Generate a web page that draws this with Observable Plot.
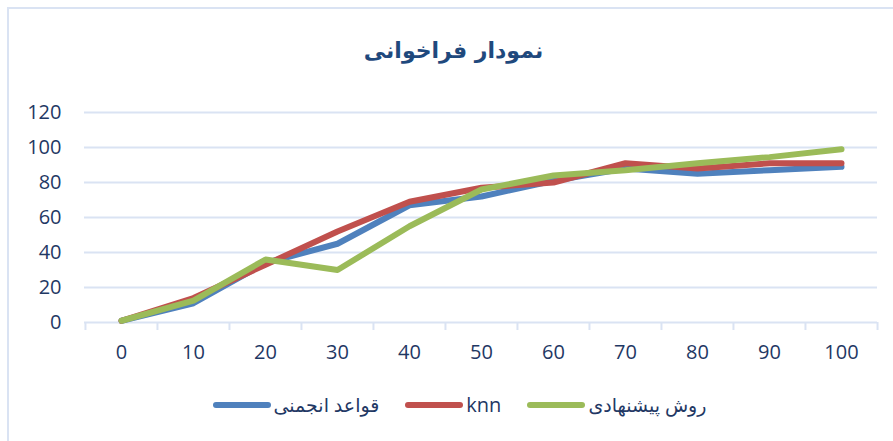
<!DOCTYPE html>
<html><head><meta charset="utf-8">
<script src="https://cdn.jsdelivr.net/npm/d3@7"></script>
<script src="https://cdn.jsdelivr.net/npm/@observablehq/plot@0.6"></script>
<style>
body{margin:0;background:#fff;}
#chart{position:relative;width:893px;height:441px;overflow:hidden;font-family:"Open Sans","DejaVu Sans",sans-serif;background:#fff;}
#frame{position:absolute;left:7px;top:7px;width:900px;height:450px;border-left:2px solid #DAE3F3;border-top:2px solid #DAE3F3;}
#title{position:absolute;top:38px;left:14px;right:0;text-align:center;font-weight:bold;font-size:22px;font-family:"DejaVu Sans",sans-serif;color:#1F497D;direction:rtl;}
#plot{position:absolute;left:0;top:90px;}
#legend{position:absolute;top:391px;left:26px;right:0;display:flex;justify-content:center;gap:26px;}
.item{display:flex;align-items:center;gap:3px;font-size:20px;color:#1F3864;line-height:28px;}
.item span.ar{font-size:19px;}
.item svg{display:block;}
</style></head>
<body>
<div id="chart">
  <div id="frame"></div>
  <div id="title">نمودار فراخوانی</div>
  <div id="plot"></div>
  <div id="legend"></div>
</div>
<script>
const categories = ["0","10","20","30","40","50","60","70","80","90","100"];
const yTicks = [0,20,40,60,80,100,120];
const seriesNames = ["قواعد انجمنی","knn","روش پیشنهادی"];
const seriesColors = ["#4F81BD","#C0504D","#9BBB59"];
const rulesValues = [1,11,34,45,67,72,81,88,85,87,89];
const knnValues = [1,14,33,52,69,77,80,91,88,91,91];
const proposedValues = [1,12.5,36,30,55,76,84,87,91,94.5,99];

const allValues = [rulesValues, knnValues, proposedValues];
const data = [];
seriesNames.forEach((name, s) => categories.forEach((c, i) => data.push({cat: c, value: allValues[s][i], series: name})));

const W = 893, H = 290, mL = 84, mR = 16;
const step = (W - mL - mR) / categories.length;
const gridColor = "#DAE3F3";
const textColor = "#1F3864";

const chart = Plot.plot({
  width: W, height: H,
  marginTop: 22, marginBottom: 58, marginLeft: mL, marginRight: mR,
  style: {fontFamily: "'Open Sans', sans-serif", fontSize: "20px", color: textColor, background: "transparent", overflow: "visible"},
  x: {type: "point", domain: categories, padding: 0.5, label: null},
  y: {domain: [0, 120], ticks: yTicks, label: null},
  color: {domain: seriesNames, range: seriesColors},
  marks: [
    Plot.gridY(yTicks, {stroke: gridColor, strokeOpacity: 1, strokeWidth: 2}),
    Plot.axisY(yTicks, {tickSize: 0, tickPadding: 23, fontSize: 20, fill: textColor, label: null}),
    Plot.axisX(categories, {tickSize: 0, tickPadding: 22, fontSize: 20, fill: textColor, label: null}),
    Plot.axisX(categories, {tickSize: 8, tickFormat: () => "", dx: -step / 2, stroke: gridColor, strokeWidth: 2, label: null}),
    Plot.axisX([categories[categories.length - 1]], {tickSize: 8, tickFormat: () => "", dx: step / 2, stroke: gridColor, strokeWidth: 2, label: null}),
    Plot.line(data, {x: "cat", y: "value", z: "series", stroke: "series", strokeWidth: 6, strokeLinecap: "round", strokeLinejoin: "round"})
  ]
});
document.getElementById("plot").appendChild(chart);

const legend = document.getElementById("legend");
seriesNames.forEach((name, i) => {
  const item = document.createElement("div");
  item.className = "item";
  const isLatin = /^[A-Za-z]+$/.test(name);
  item.innerHTML = `<svg width="58" height="10"><line x1="3" y1="5" x2="55" y2="5" stroke="${seriesColors[i]}" stroke-width="6" stroke-linecap="round"/></svg><span dir="rtl" class="${isLatin ? "" : "ar"}">${name}</span>`;
  legend.appendChild(item);
});
</script>
</body></html>
